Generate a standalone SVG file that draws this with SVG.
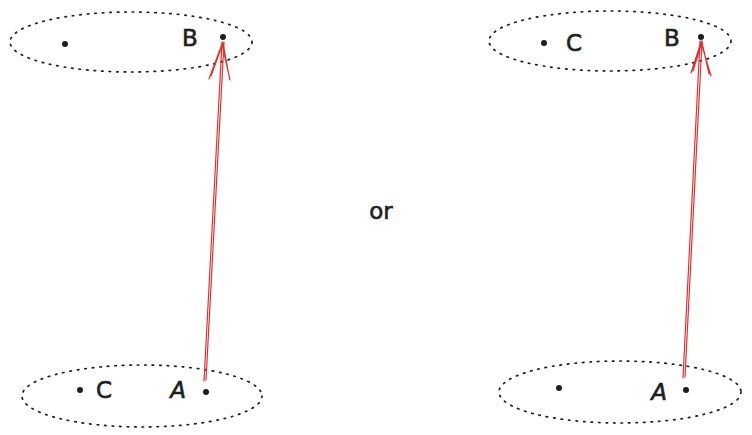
<svg xmlns="http://www.w3.org/2000/svg" width="752" height="435" viewBox="0 0 752 435">
<style>
.set{fill:none;stroke:#1e1e1e;stroke-width:1.7;stroke-dasharray:1.5 6;stroke-linecap:round}
.pt{fill:#1e1e1e}
.lbl{font-family:"DejaVu Sans","Liberation Sans",sans-serif;font-size:23px;fill:#1e1e1e;stroke:#1e1e1e;stroke-width:0.6}
.arr{fill:none;stroke:#e03131;stroke-width:1.2;stroke-linecap:round}
</style>
<rect width="752" height="435" fill="#ffffff"/>
<g id="set-top-left">
<ellipse class="set" cx="131" cy="42" rx="121" ry="30"/>
<circle class="pt" cx="65" cy="44" r="3"/>
<circle class="pt" cx="223" cy="37" r="3"/>
<text class="lbl" x="190" y="46" text-anchor="middle">B</text>
</g>
<g id="set-top-right">
<ellipse class="set" cx="610" cy="41" rx="121" ry="30"/>
<circle class="pt" cx="544" cy="43" r="3"/>
<circle class="pt" cx="701" cy="37" r="3"/>
<text class="lbl" x="574" y="51" text-anchor="middle">C</text>
<text class="lbl" x="672" y="46" text-anchor="middle">B</text>
</g>
<g id="set-bottom-left">
<ellipse class="set" cx="142" cy="396" rx="120" ry="31"/>
<circle class="pt" cx="80" cy="390" r="3"/>
<circle class="pt" cx="206" cy="392" r="3"/>
<text class="lbl" x="104" y="398" text-anchor="middle">C</text>
<text class="lbl" x="178" y="398" text-anchor="middle" font-style="italic">A</text>
</g>
<g id="set-bottom-right">
<ellipse class="set" cx="620" cy="392" rx="121" ry="31"/>
<circle class="pt" cx="559" cy="388" r="3"/>
<circle class="pt" cx="686" cy="390" r="3"/>
<text class="lbl" x="659" y="400" text-anchor="middle" font-style="italic">A</text>
</g>
<g id="or">
<text class="lbl" x="381" y="219" text-anchor="middle" font-size="20">or</text>
</g>
<g id="connectors">
<path class="arr" d="M204 381 L222 42 M206 380 L224 42"/>
<path class="arr" d="M209 79 L222 44 L230 80 M211 76 L223 43 L229 76"/>
<path class="arr" d="M683 378 L700 41 M685 377 L702 41"/>
<path class="arr" d="M691 73 L701 42 L711 76 M693 71 L702 42 L709 74"/>
</g>
</svg>
